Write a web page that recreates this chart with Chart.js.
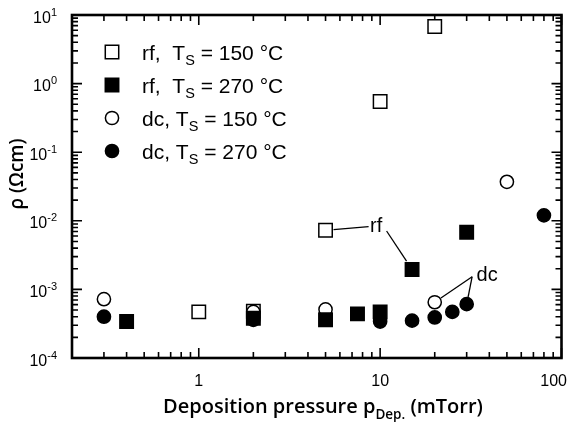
<!DOCTYPE html>
<html>
<head>
<meta charset="utf-8">
<script src="https://cdn.jsdelivr.net/npm/chart.js@4.4.0/dist/chart.umd.min.js"></script>
<style>
  body { margin: 0; background: #fff; }
  #wrap { width: 580px; height: 425px; }
</style>
</head>
<body>
<div id="wrap"><canvas id="rhoChart" width="580" height="425"></canvas></div>
<script>
// resistivity (Ohm cm) vs. deposition pressure (mTorr)
const rf150Pressure = [1, 2, 5, 10, 20];
const rf150Rho = [4.7e-4, 4.8e-4, 7.3e-3, 0.55, 6.8];
const rf270Pressure = [0.4, 2, 5, 7.5, 10, 15, 30];
const rf270Rho = [3.4e-4, 3.8e-4, 3.6e-4, 4.4e-4, 4.7e-4, 1.95e-3, 6.8e-3];
const dc150Pressure = [0.3, 2, 5, 20, 50];
const dc150Rho = [7.2e-4, 4.7e-4, 5.1e-4, 6.5e-4, 0.037];
const dc270Pressure = [0.3, 2, 10, 15, 20, 25, 30, 80];
const dc270Rho = [4.0e-4, 3.6e-4, 3.4e-4, 3.5e-4, 3.9e-4, 4.7e-4, 6.1e-4, 0.012];

const seriesMethod = ["rf,  ", "rf,  ", "dc, ", "dc, "];
const seriesTemp = [" = 150 °C", " = 270 °C", " = 150 °C", " = 270 °C"];

const xTickLabels = [1, 10, 100];
const yTickExponents = [-4, -3, -2, -1, 0, 1];

const X_MIN = 0.2, X_MAX = 100;
const Y_MIN = 1e-4, Y_MAX = 10;

const TEXT_FONT = '"Liberation Sans", Arial, sans-serif';
const TITLE_FONT = '"Open Sans", "DejaVu Sans", sans-serif';

function toPoints(xs, ys) {
  return xs.map((x, i) => ({ x: x, y: ys[i] }));
}

const markerStyles = [
  { pointStyle: "rect", radius: 9.5, fill: "#fff" },
  { pointStyle: "rect", radius: 9.5, fill: "#000" },
  { pointStyle: "circle", radius: 6.6, fill: "#fff" },
  { pointStyle: "circle", radius: 6.6, fill: "#000" },
];

const seriesData = [
  toPoints(rf150Pressure, rf150Rho),
  toPoints(rf270Pressure, rf270Rho),
  toPoints(dc150Pressure, dc150Rho),
  toPoints(dc270Pressure, dc270Rho),
];

// open markers sit underneath the filled ones
const drawOrder = [4, 2, 3, 1];

const datasets = seriesData.map((pts, i) => ({
  label: seriesMethod[i] + "TS" + seriesTemp[i],
  data: pts,
  pointStyle: markerStyles[i].pointStyle,
  pointRadius: markerStyles[i].radius,
  pointBackgroundColor: markerStyles[i].fill,
  pointBorderColor: "#000",
  pointBorderWidth: 1.5,
  showLine: false,
  order: drawOrder[i],
}));

// callout labels; each line runs from an offset of the label to a data point
const callouts = [
  { text: "rf", at: [9.5, 8.4e-3], lines: [
    { from: [-7.5, 0.7], series: 0, index: 2, trim: 8 },
    { from: [10.5, 5], series: 1, index: 5, trim: 10 },
  ] },
  { text: "dc", at: [38.9, 1.62e-3], lines: [
    { from: [-15, 1.7], series: 2, index: 3, trim: 7.5 },
    { from: [-15, 1.7], series: 3, index: 6, trim: 7 },
  ] },
];

function drawSubText(ctx, x, y, parts) {
  // parts: [text, font, dy]
  let cx = x;
  parts.forEach(([t, font, dy]) => {
    ctx.font = font;
    ctx.fillText(t, cx, y + dy);
    cx += ctx.measureText(t).width;
  });
  return cx - x;
}

function measureParts(ctx, parts) {
  let w = 0;
  parts.forEach(([t, font]) => {
    ctx.font = font;
    w += ctx.measureText(t).width;
  });
  return w;
}

function drawMarker(ctx, style, x, y) {
  ctx.save();
  ctx.lineWidth = 1.5;
  ctx.strokeStyle = "#000";
  ctx.fillStyle = style.fill;
  ctx.beginPath();
  if (style.pointStyle === "rect") {
    const h = style.radius * Math.SQRT1_2;
    ctx.rect(x - h, y - h, 2 * h, 2 * h);
  } else {
    ctx.arc(x, y, style.radius, 0, Math.PI * 2);
  }
  ctx.fill();
  ctx.stroke();
  ctx.restore();
}

const axesPlugin = {
  id: "logFrame",
  beforeDatasetsDraw(chart) {
    const { ctx, chartArea: a, scales } = chart;
    const xs = scales.x, ys = scales.y;
    ctx.save();
    ctx.strokeStyle = "#000";
    ctx.lineWidth = 1.6;
    ctx.beginPath();
    for (let e = -1; e <= 2; e++) {
      for (let m = 1; m <= 9; m++) {
        const v = m * Math.pow(10, e);
        if (v < X_MIN - 1e-9 || v > X_MAX + 1e-9) continue;
        const px = xs.getPixelForValue(v);
        const len = m === 1 ? 10 : 6;
        ctx.moveTo(px, a.bottom);
        ctx.lineTo(px, a.bottom - len);
        ctx.moveTo(px, a.top);
        ctx.lineTo(px, a.top + len);
      }
    }
    for (let e = -4; e <= 1; e++) {
      for (let m = 1; m <= 9; m++) {
        const v = m * Math.pow(10, e);
        if (v > Y_MAX * 1.0001) continue;
        const py = ys.getPixelForValue(v);
        const len = m === 1 ? 10 : 6;
        ctx.moveTo(a.left, py);
        ctx.lineTo(a.left + len, py);
        ctx.moveTo(a.right, py);
        ctx.lineTo(a.right - len, py);
      }
    }
    ctx.stroke();
    ctx.lineWidth = 2.6;
    ctx.strokeRect(a.left, a.top, a.right - a.left, a.bottom - a.top);

    // callout lines and labels
    ctx.lineWidth = 1.3;
    ctx.fillStyle = "#000";
    ctx.font = "20px " + TEXT_FONT;
    ctx.textAlign = "center";
    ctx.textBaseline = "middle";
    callouts.forEach((c) => {
      const lx = xs.getPixelForValue(c.at[0]);
      const ly = ys.getPixelForValue(c.at[1]);
      c.lines.forEach((l) => {
        const p = seriesData[l.series][l.index];
        const tx = xs.getPixelForValue(p.x);
        const ty = ys.getPixelForValue(p.y);
        const sx = lx + l.from[0], sy = ly + l.from[1];
        const d = Math.hypot(tx - sx, ty - sy);
        const ex = tx + (sx - tx) * l.trim / d;
        const ey = ty + (sy - ty) * l.trim / d;
        ctx.beginPath();
        ctx.moveTo(sx, sy);
        ctx.lineTo(ex, ey);
        ctx.stroke();
      });
      ctx.fillText(c.text, lx, ly);
    });
    ctx.restore();
  },
  afterDraw(chart) {
    const { ctx, chartArea: a, scales } = chart;
    const xs = scales.x, ys = scales.y;
    ctx.save();
    ctx.fillStyle = "#000";

    // x tick labels
    ctx.font = "16px " + TEXT_FONT;
    ctx.textBaseline = "middle";
    ctx.textAlign = "center";
    xTickLabels.forEach((v) => {
      const t = String(v);
      let px = xs.getPixelForValue(v);
      const w = ctx.measureText(t).width;
      px = Math.min(px, 567 - w / 2);
      ctx.fillText(t, px, a.bottom + 24);
    });

    // y tick labels as powers of ten
    ctx.textAlign = "left";
    ctx.textBaseline = "alphabetic";
    yTickExponents.forEach((e) => {
      const py = ys.getPixelForValue(Math.pow(10, e));
      const parts = [["10", "16px " + TEXT_FONT, 0], [String(e), "11px " + TEXT_FONT, -7]];
      const w = measureParts(ctx, parts);
      drawSubText(ctx, 57 - w, py + 7.5, parts);
    });

    // y axis title
    ctx.save();
    ctx.translate(18, 174);
    ctx.rotate(-Math.PI / 2);
    ctx.font = "600 19px " + TITLE_FONT;
    ctx.textAlign = "center";
    ctx.textBaseline = "middle";
    ctx.fillText("ρ (Ωcm)", 0, 0);
    ctx.restore();

    // x axis title with subscript
    const tf = "600 20px " + TITLE_FONT;
    const sf = "600 13.5px " + TITLE_FONT;
    const titleParts = [["Deposition pressure p", tf, 0], ["Dep.", sf, 6], [" (mTorr)", tf, 0]];
    const tw = measureParts(ctx, titleParts);
    drawSubText(ctx, 323 - tw / 2, 413, titleParts);

    // legend
    const rowY = [52, 85, 118, 151];
    rowY.forEach((y, i) => {
      drawMarker(ctx, markerStyles[i], 112, y);
      ctx.fillStyle = "#000";
      const f = "21px " + TEXT_FONT;
      const parts = [[seriesMethod[i] + "T", f, 0], ["S", "14.5px " + TEXT_FONT, 5], [seriesTemp[i], f, 0]];
      drawSubText(ctx, 142, y + 7.5, parts);
    });
    ctx.restore();
  },
};

new Chart(document.getElementById("rhoChart").getContext("2d"), {
  type: "scatter",
  data: { datasets: datasets },
  options: {
    responsive: false,
    animation: false,
    layout: { padding: { left: 72, top: 15, right: 18.5, bottom: 67 } },
    plugins: { legend: { display: false }, tooltip: { enabled: false } },
    scales: {
      x: { type: "logarithmic", min: X_MIN, max: X_MAX, display: false },
      y: { type: "logarithmic", min: Y_MIN, max: Y_MAX, display: false },
    },
  },
  plugins: [axesPlugin],
});
</script>
</body>
</html>
